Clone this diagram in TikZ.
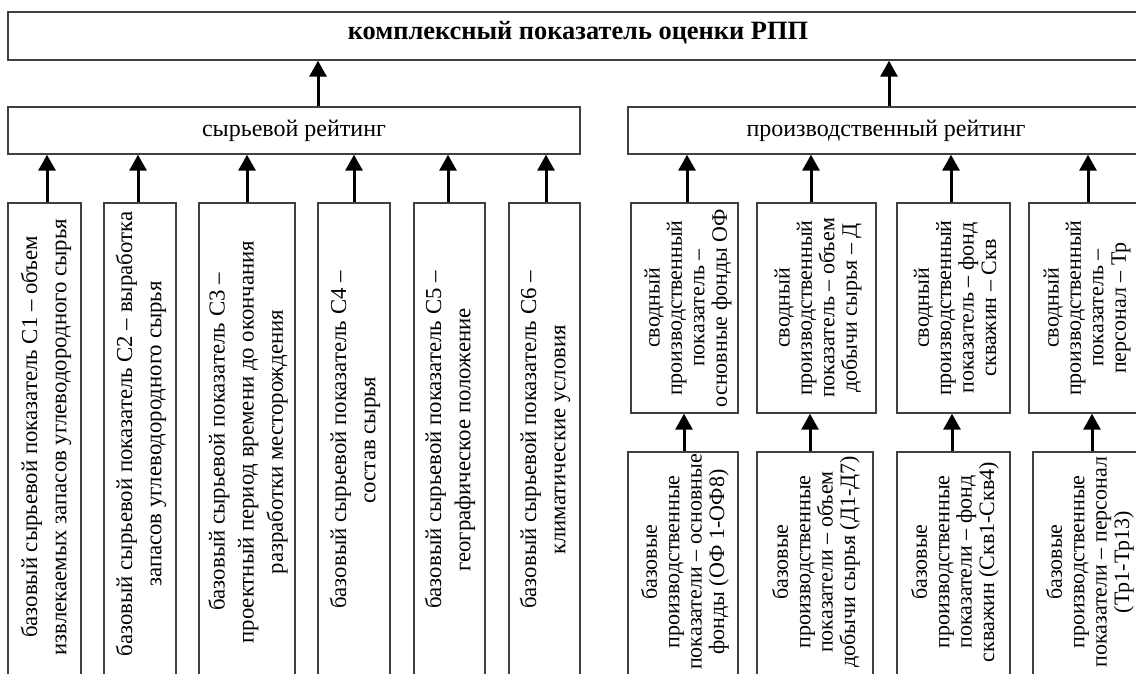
\documentclass[tikz,border=0pt]{standalone}
\usepackage{fontspec}
\setmainfont{Liberation Serif}
\usetikzlibrary{arrows.meta,fit}
\begin{document}
\begin{tikzpicture}[x=0.5pt,y=-0.5pt,
  box/.style={draw=black!75, line width=0.7pt, inner sep=0pt},
  htxt/.style={inner sep=0pt, font=\fontsize{12}{14.5}\selectfont},
  ttxt/.style={inner sep=0pt, font=\fontsize{13.2}{15}\selectfont\bfseries},
  vtxt/.style={rotate=90, align=center, inner sep=0pt, font=\fontsize{11.4}{14.6}\selectfont},
  ptxt/.style={rotate=90, align=center, inner sep=0pt, font=\fontsize{11}{11.2}\selectfont},
  arr/.style={line width=1.5pt, -{Triangle[length=8pt,width=8.5pt]}}]
\useasboundingbox (0,0) rectangle (1136,674);
\clip (0,0) rectangle (1136,674);
\fill[white] (0,0) rectangle (1136,674);

% top
\node[box, fit={(8,12)(1150,60)}] (top) {};
\node[ttxt] (topt) at (578,33) {комплексный показатель оценки РПП};

% ratings
\node[box, fit={(8,107)(580,154)}] (sr) {};
\node[htxt] (srt) at (294,131) {сырьевой рейтинг};
\node[box, fit={(628,107)(1150,154)}] (pr) {};
\node[htxt] (prt) at (886,131) {производственный рейтинг};

% raw-material base indicators
\node[box, fit={(8,203)(81,680)}] (c1) {};
\node[box, fit={(104,203)(176,680)}] (c2) {};
\node[box, fit={(199,203)(295,680)}] (c3) {};
\node[box, fit={(318,203)(390,680)}] (c4) {};
\node[box, fit={(414,203)(485,680)}] (c5) {};
\node[box, fit={(509,203)(580,680)}] (c6) {};
\node[vtxt] (c1t) at (46,437) {базовый сырьевой показатель С1 – объем\\извлекаемых запасов углеводородного сырья};
\node[vtxt] (c2t) at (141,434) {базовый сырьевой показатель С2 – выработка\\запасов углеводородного сырья};
\node[vtxt] (c3t) at (248,442) {базовый сырьевой показатель С3 –\\проектный период времени до окончания\\разработки месторождения};
\node[vtxt] (c4t) at (355,440) {базовый сырьевой показатель С4 –\\состав сырья};
\node[vtxt] (c5t) at (450,440) {базовый сырьевой показатель С5 –\\географическое положение};
\node[vtxt] (c6t) at (545,440) {базовый сырьевой показатель С6 –\\климатические условия};

% production summary indicators
\node[box, fit={(631,203)(738,413)}] (pa) {};
\node[box, fit={(757,203)(876,413)}] (pb) {};
\node[box, fit={(897,203)(1010,413)}] (pc) {};
\node[box, fit={(1029,203)(1142,413)}] (pd) {};
\node[ptxt] (pat) at (688,308) {сводный\\производственный\\показатель –\\основные фонды ОФ};
\node[ptxt] (pbt) at (818,308) {сводный\\производственный\\показатель – объем\\добычи сырья – Д};
\node[ptxt] (pct) at (955,308) {сводный\\производственный\\показатель – фонд\\скважин – Скв};
\node[ptxt] (pdt) at (1087,308) {сводный\\производственный\\показатель –\\персонал – Тр};

% production base indicators
\node[box, fit={(628,452)(738,680)}] (ba) {};
\node[box, fit={(757,452)(873,680)}] (bb) {};
\node[box, fit={(897,452)(1010,680)}] (bc) {};
\node[box, fit={(1033,452)(1145,680)}] (bd) {};
\node[ptxt] (bat) at (685,562) {базовые\\производственные\\показатели – основные\\фонды (ОФ 1-ОФ8)};
\node[ptxt] (bbt) at (816,562) {базовые\\производственные\\показатели – объем\\добычи сырья (Д1-Д7)};
\node[ptxt] (bct) at (955,562) {базовые\\производственные\\показатели – фонд\\скважин (Скв1-Скв4)};
\node[ptxt] (bdt) at (1090,562) {базовые\\производственные\\показатели – персонал\\(Тр1-Тр13)};

% arrows to top
\draw[arr] (sr.north -| 318,0) -- (top.south -| 318,0);
\draw[arr] (pr.north -| 889,0) -- (top.south -| 889,0);

% arrows to raw rating
\draw[arr] (c1.north -| 47,0) -- (sr.south -| 47,0);
\draw[arr] (c2.north -| 138,0) -- (sr.south -| 138,0);
\draw[arr] (c3.north -| 247,0) -- (sr.south -| 247,0);
\draw[arr] (c4.north -| 354,0) -- (sr.south -| 354,0);
\draw[arr] (c5.north -| 448,0) -- (sr.south -| 448,0);
\draw[arr] (c6.north -| 546,0) -- (sr.south -| 546,0);

% arrows to production rating
\draw[arr] (pa.north -| 687,0) -- (pr.south -| 687,0);
\draw[arr] (pb.north -| 811,0) -- (pr.south -| 811,0);
\draw[arr] (pc.north -| 951,0) -- (pr.south -| 951,0);
\draw[arr] (pd.north -| 1088,0) -- (pr.south -| 1088,0);

% base -> summary
\draw[arr] (ba.north -| 684,0) -- (pa.south -| 684,0);
\draw[arr] (bb.north -| 810,0) -- (pb.south -| 810,0);
\draw[arr] (bc.north -| 952,0) -- (pc.south -| 952,0);
\draw[arr] (bd.north -| 1092,0) -- (pd.south -| 1092,0);
\end{tikzpicture}
\end{document}
